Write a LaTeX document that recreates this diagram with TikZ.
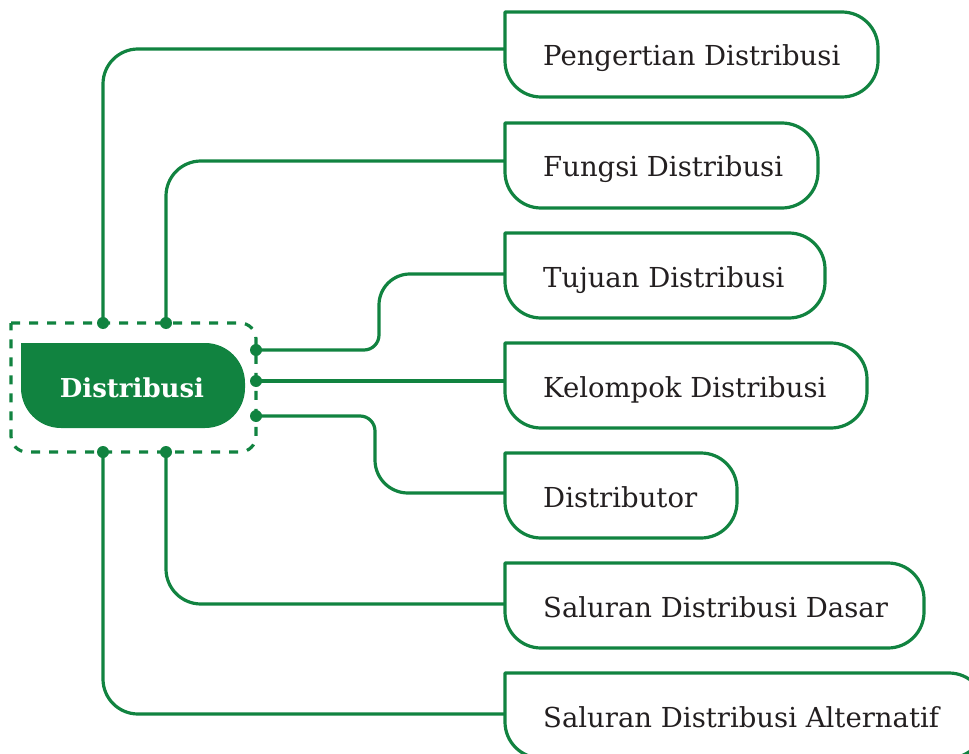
\documentclass[tikz,border=0pt]{standalone}
\usepackage{fontspec}
\setmainfont{DejaVu Serif}
\definecolor{leafgreen}{RGB}{17,131,64}
\definecolor{ink}{RGB}{35,31,32}
\tikzset{
  link/.style={draw=leafgreen, line width=3.2pt},
  outline/.style={draw=leafgreen, line width=3.2pt, line join=round},
  framedash/.style={draw=leafgreen, line width=3.2pt, dash pattern=on 9pt off 9pt},
  leafbox/.style={anchor=north west, minimum height=85pt, inner sep=0pt, outer sep=0pt},
  hubbox/.style={anchor=north west, minimum width=224pt, minimum height=85pt, inner sep=0pt, outer sep=0pt},
  leaftext/.style={anchor=base west, text=ink, font=\fontsize{27.5}{32}\selectfont, inner sep=0pt},
  hubtext/.style={anchor=base, text=white, font=\bfseries\fontsize{26}{30}\selectfont, inner sep=0pt},
  dot/.style={circle, fill=leafgreen, minimum size=12pt, inner sep=0pt},
}
% box with a square top-left corner and the other three rounded
\newcommand\softframe[3]{%
  \path[#1] (#2.north west) -- ([xshift=-#3]#2.north east)
    arc[start angle=90,end angle=0,radius=#3] -- ([yshift=#3]#2.south east)
    arc[start angle=0,end angle=-90,radius=#3] -- ([xshift=#3]#2.south west)
    arc[start angle=-90,end angle=-180,radius=#3] -- cycle;}

\begin{document}
\begin{tikzpicture}[x=1pt,y=-1pt]
\useasboundingbox (0,0) rectangle (969,754);
\clip (0,0) rectangle (969,754);

% dashed frame around the hub
\node[anchor=north west, minimum width=245pt, minimum height=129pt, inner sep=0pt, outer sep=0pt] (frame) at (11,323) {};
\softframe{framedash}{frame}{16pt}

% hub
\node[hubbox] (hub) at (21,343) {};
\softframe{fill=leafgreen}{hub}{40pt}
\node[hubtext] (hubt) at (132,397) {Distribusi};

% leaves
\node[leafbox, minimum width=373pt] (b1) at (505,12) {};
\node[leafbox, minimum width=313pt] (b2) at (505,123) {};
\node[leafbox, minimum width=320pt] (b3) at (505,233) {};
\node[leafbox, minimum width=362pt] (b4) at (505,343) {};
\node[leafbox, minimum width=232pt] (b5) at (505,453) {};
\node[leafbox, minimum width=419pt] (b6) at (505,563) {};
\node[leafbox, minimum width=480pt] (b7) at (505,673) {};
\foreach \b in {b1,b2,b3,b4,b5,b6,b7}{\softframe{outline}{\b}{36pt}}

\node[leaftext] (t1) at (543,66) {Pengertian Distribusi};
\node[leaftext] (t2) at (543,177) {Fungsi Distribusi};
\node[leaftext] (t3) at (543,287) {Tujuan Distribusi};
\node[leaftext] (t4) at (543,397) {Kelompok Distribusi};
\node[leaftext] (t5) at (543,507) {Distributor};
\node[leaftext] (t6) at (543,617) {Saluran Distribusi Dasar};
\node[leaftext] (t7) at (543,727) {Saluran Distribusi Alternatif};

% anchor points on the frame
\coordinate (d1) at (103,323);
\coordinate (d2) at (166,323);
\coordinate (d3) at (256,350);
\coordinate (d4) at (256,381);
\coordinate (d5) at (256,416);
\coordinate (d6) at (166,452);
\coordinate (d7) at (103,452);

% connectors
\draw[link, rounded corners=35pt] (d1) |- ([yshift=5.5pt]b1.west);
\draw[link, rounded corners=35pt] (d2) |- ([yshift=4.5pt]b2.west);
\draw[link] (d3) -- (364,350) arc[start angle=-90,end angle=0,radius=15pt]
  -- (379,305) arc[start angle=180,end angle=90,radius=31pt] -- ([yshift=1.5pt]b3.west);
\draw[link] (d4) -- (d4 -| b4.west);
\draw[link] (d5) -- (360,416) arc[start angle=90,end angle=0,radius=15pt]
  -- (375,460) arc[start angle=180,end angle=270,radius=33pt] -- ([yshift=2.5pt]b5.west);
\draw[link, rounded corners=35pt] (d6) |- ([yshift=1.5pt]b6.west);
\draw[link, rounded corners=35pt] (d7) |- ([yshift=1.5pt]b7.west);

\foreach \d in {d1,d2,d3,d4,d5,d6,d7}{\node[dot] at (\d) {};}
\end{tikzpicture}
\end{document}
